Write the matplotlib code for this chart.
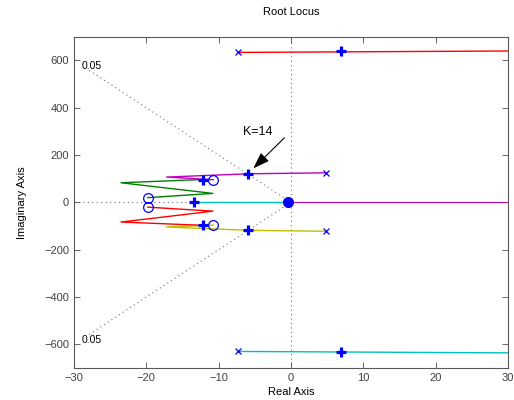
#!/usr/bin/env python3
"""Root locus with K=14 closed-loop poles marked."""

import matplotlib
matplotlib.use("Agg")
import matplotlib.pyplot as plt

plt.rcParams["font.family"] = ["Liberation Sans", "DejaVu Sans"]

# open-loop poles (x) and zeros (o)
pole_re = [-7.3, -7.3, 4.8, 4.8]
pole_im = [634, -630, 125, -122]
zero_re = [-19.8, -19.8, -10.75, -10.75]
zero_im = [20, -20, 94, -94]

# closed-loop poles at K=14 (+)
k_re = [6.9, 6.9, -5.9, -5.9, -12.1, -12.1, -13.4]
k_im = [638, -631, 121, -118, 94, -94, 0]

# locus branches
red_re = [-7.3, 30]
red_im = [634, 640]
cyan_top_re = [-7.3, 30]
cyan_top_im = [-630, -636]
magenta_re = [4.8, -5.9, -17.2, -10.75]
magenta_im = [125, 121, 107, 96]
yellow_re = [4.8, -5.9, -17.2, -10.75]
yellow_im = [-122, -118, -104, -96]
green_re = [-12.1, -23.5, -10.8, -19.8]
green_im = [97, 83, 38, 20]
red_low_re = [-19.8, -10.8, -23.5, -12.1]
red_low_im = [-20, -37, -83, -97]
real_re = [-13.4, -0.4]
real_im = [0, 0]
origin_re = [-0.4, 30]
origin_im = [0, 0]

zeta_label = "0.05"
k_label = "K=14"


def main() -> int:
    fig = plt.figure(figsize=(5.14, 4.0), dpi=100)
    ax = fig.add_axes([0.144, 0.08, 0.844, 0.828])

    grid_kw = dict(color="0.45", linestyle=(0, (1, 3)), linewidth=0.8, zorder=1)
    ax.plot([0, 0], [-700, 700], **grid_kw)
    ax.plot([-30, 0], [0, 0], **grid_kw)
    ax.plot([0, -28], [0, 560], **grid_kw)
    ax.plot([0, -28], [0, -560], **grid_kw)
    ax.text(-28.9, 578, zeta_label, fontsize=7.5, ha="left", va="center")
    ax.text(-28.9, -580, zeta_label, fontsize=7.5, ha="left", va="center")

    lw = 1.0
    ax.plot(red_re, red_im, color="r", lw=lw, zorder=2)
    ax.plot(cyan_top_re, cyan_top_im, color=(0, 0.75, 0.75), lw=lw, zorder=2)
    ax.plot(magenta_re, magenta_im, color="m", lw=lw, zorder=2)
    ax.plot(yellow_re, yellow_im, color=(0.75, 0.75, 0), lw=lw, zorder=2)
    ax.plot(green_re, green_im, color=(0, 0.5, 0), lw=lw, zorder=2)
    ax.plot(red_low_re, red_low_im, color="r", lw=lw, zorder=2)
    ax.plot(real_re, real_im, color=(0, 0.75, 0.75), lw=1.0, zorder=2)
    ax.plot(origin_re, origin_im, color="m", lw=0.8, zorder=2)

    ax.plot(pole_re, pole_im, "x", color="b", ms=5, mew=0.9, ls="none", zorder=3)
    ax.plot(zero_re, zero_im, "o", mfc="none", mec="b", ms=7, mew=0.9, ls="none", zorder=3)
    ax.plot(k_re, k_im, "+", color="b", ms=7, mew=2.3, ls="none", zorder=4)
    ax.plot([-0.4], [0], "o", color="b", ms=7, zorder=4)

    ax.text(-4.6, 296, k_label, fontsize=9, ha="center", va="center")
    ax.annotate(
        "",
        xy=(-5.2, 144),
        xytext=(-0.9, 273),
        arrowprops=dict(arrowstyle="-|>,head_length=1.0,head_width=0.35",
                        color="k", lw=0.8, shrinkA=0, shrinkB=0),
    )

    ax.set_xlim(-30, 30)
    ax.set_ylim(-700, 700)
    ax.set_xticks(range(-30, 31, 10))
    ax.set_yticks(range(-600, 601, 200))
    ax.tick_params(direction="in", top=True, right=True, labelsize=8,
                   length=4, width=0.6, colors="0.3", labelcolor="0.25")
    for spine in ax.spines.values():
        spine.set_color("0.35")
        spine.set_linewidth(0.8)

    ax.set_title("Root Locus", fontsize=8, pad=16)
    ax.set_xlabel("Real Axis", fontsize=8, labelpad=3)
    ax.set_ylabel("Imaginary Axis", fontsize=8, labelpad=12)

    fig.savefig("out.png", dpi=100)
    plt.close(fig)
    return 0


if __name__ == "__main__":
    raise SystemExit(main())
